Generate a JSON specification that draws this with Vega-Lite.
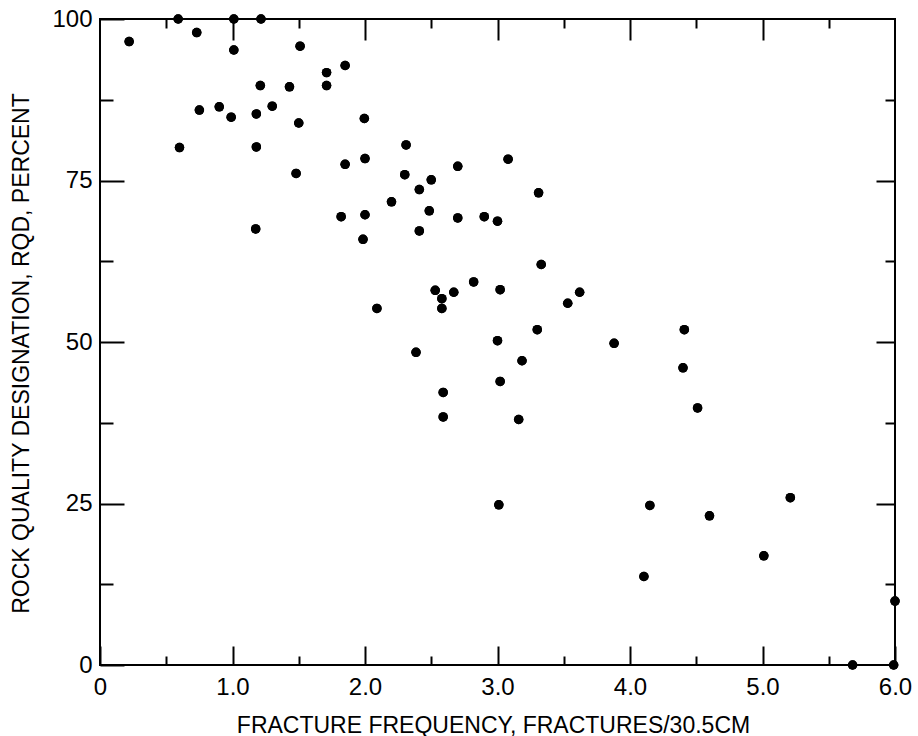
{
  "$schema": "https://vega.github.io/schema/vega-lite/v6.json",
  "width": 795,
  "height": 646,
  "autosize": {"type": "none"},
  "padding": {"left": 100, "top": 19, "right": 23, "bottom": 71},
  "background": "white",
  "config": {
    "font": "Liberation Sans",
    "view": {"stroke": "black", "strokeWidth": 2},
    "axis": {"domain": false, "grid": false, "tickColor": "black", "tickWidth": 2, "labelColor": "black", "titleColor": "black", "titleFontWeight": "normal", "labelFlush": false, "labelOverlap": false, "labelBound": false}
  },
  "data": {"values": [
    {"freq": 0.22, "rqd": 96.5}, {"freq": 0.59, "rqd": 100}, {"freq": 0.73, "rqd": 97.9}, {"freq": 1.01, "rqd": 100},
    {"freq": 1.01, "rqd": 95.2}, {"freq": 1.215, "rqd": 100}, {"freq": 1.51, "rqd": 95.8}, {"freq": 1.85, "rqd": 92.8},
    {"freq": 1.71, "rqd": 91.7}, {"freq": 1.71, "rqd": 89.7}, {"freq": 1.21, "rqd": 89.7}, {"freq": 1.43, "rqd": 89.5},
    {"freq": 0.75, "rqd": 85.9}, {"freq": 0.9, "rqd": 86.4}, {"freq": 0.99, "rqd": 84.8}, {"freq": 1.18, "rqd": 85.3},
    {"freq": 1.3, "rqd": 86.5}, {"freq": 1.5, "rqd": 83.9}, {"freq": 1.995, "rqd": 84.6}, {"freq": 0.6, "rqd": 80.1},
    {"freq": 1.18, "rqd": 80.2}, {"freq": 2.0, "rqd": 78.4}, {"freq": 1.85, "rqd": 77.5}, {"freq": 1.48, "rqd": 76.1},
    {"freq": 2.31, "rqd": 80.5}, {"freq": 2.3, "rqd": 75.9}, {"freq": 2.7, "rqd": 77.2}, {"freq": 3.08, "rqd": 78.3},
    {"freq": 2.5, "rqd": 75.1}, {"freq": 2.41, "rqd": 73.6}, {"freq": 3.31, "rqd": 73.1}, {"freq": 2.2, "rqd": 71.7},
    {"freq": 2.485, "rqd": 70.3}, {"freq": 2.7, "rqd": 69.2}, {"freq": 2.9, "rqd": 69.4}, {"freq": 3.0, "rqd": 68.7},
    {"freq": 2.41, "rqd": 67.2}, {"freq": 1.82, "rqd": 69.4}, {"freq": 2.0, "rqd": 69.7}, {"freq": 1.175, "rqd": 67.5},
    {"freq": 1.985, "rqd": 65.9}, {"freq": 3.33, "rqd": 62.0}, {"freq": 2.82, "rqd": 59.3}, {"freq": 2.53, "rqd": 58.0},
    {"freq": 2.67, "rqd": 57.7}, {"freq": 3.02, "rqd": 58.1}, {"freq": 3.62, "rqd": 57.7}, {"freq": 3.53, "rqd": 56.0},
    {"freq": 2.58, "rqd": 56.7}, {"freq": 2.58, "rqd": 55.2}, {"freq": 2.09, "rqd": 55.2}, {"freq": 3.3, "rqd": 51.9},
    {"freq": 3.0, "rqd": 50.2}, {"freq": 3.88, "rqd": 49.8}, {"freq": 2.385, "rqd": 48.4}, {"freq": 3.185, "rqd": 47.1},
    {"freq": 3.02, "rqd": 43.9}, {"freq": 2.59, "rqd": 42.2}, {"freq": 2.59, "rqd": 38.4}, {"freq": 3.16, "rqd": 38.0},
    {"freq": 4.41, "rqd": 51.9}, {"freq": 4.4, "rqd": 46.0}, {"freq": 4.51, "rqd": 39.8}, {"freq": 3.01, "rqd": 24.8},
    {"freq": 4.15, "rqd": 24.7}, {"freq": 4.105, "rqd": 13.7}, {"freq": 4.6, "rqd": 23.1}, {"freq": 5.21, "rqd": 25.9},
    {"freq": 5.01, "rqd": 16.9}, {"freq": 6.0, "rqd": 9.9}, {"freq": 5.68, "rqd": 0}, {"freq": 5.99, "rqd": 0}
  ]},
  "layer": [
    {
      "mark": {"type": "circle", "color": "black", "size": 90, "opacity": 1},
      "encoding": {
        "x": {"field": "freq", "type": "quantitative", "scale": {"domain": [0, 6], "nice": false, "zero": false},
          "axis": {"orient": "bottom", "values": [0, 0.5, 1, 1.5, 2, 2.5, 3, 3.5, 4, 4.5, 5, 5.5, 6],
            "tickSize": {"condition": {"test": "datum.value % 1 === 0", "value": -19}, "value": -9},
            "labelExpr": "datum.value === 0 ? '0' : (datum.value % 1 === 0 ? format(datum.value, '.1f') : '')",
            "labelFontSize": 24, "labelPadding": 29,
            "title": "FRACTURE FREQUENCY, FRACTURES/30.5CM", "titleFontSize": 23, "titlePadding": 5, "titleX": 393}},
        "y": {"field": "rqd", "type": "quantitative", "scale": {"domain": [0, 100], "nice": false, "zero": false},
          "axis": {"orient": "left", "values": [0, 12.5, 25, 37.5, 50, 62.5, 75, 87.5, 100],
            "tickSize": {"condition": {"test": "datum.value % 25 === 0", "value": -24}, "value": -13},
            "labelExpr": "datum.value % 25 === 0 ? format(datum.value, 'd') : ''",
            "labelFontSize": 24, "labelPadding": 32,
            "title": "ROCK QUALITY DESIGNATION, RQD, PERCENT", "titleFontSize": 23, "titlePadding": 18, "titleY": 334}}
      }
    },
    {
      "mark": {"type": "circle", "color": "black", "size": 90, "opacity": 1},
      "encoding": {
        "x": {"field": "freq", "type": "quantitative",
          "axis": {"orient": "top", "values": [0.5, 1, 1.5, 2, 2.5, 3, 3.5, 4, 4.5, 5, 5.5],
            "tickSize": {"condition": {"test": "datum.value % 1 === 0", "value": -21}, "value": -9},
            "labels": false, "title": null}},
        "y": {"field": "rqd", "type": "quantitative",
          "axis": {"orient": "right", "values": [12.5, 25, 37.5, 50, 62.5, 75, 87.5],
            "tickSize": {"condition": {"test": "datum.value % 25 === 0", "value": -19}, "value": -10},
            "labels": false, "title": null}}
      }
    }
  ],
  "resolve": {"axis": {"x": "independent", "y": "independent"}}
}
